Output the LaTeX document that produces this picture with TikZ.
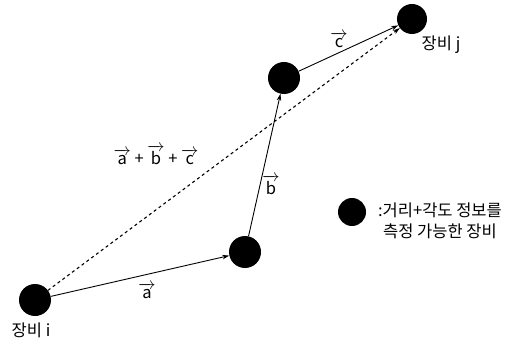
\documentclass[tikz,border=0pt]{standalone}
\usepackage{amsmath}
\usepackage{fontspec}
\setmainfont{Liberation Sans}
\newfontfamily\kor{Noto Sans CJK KR}
\usepackage{tikz}
\usetikzlibrary{arrows.meta, positioning, calc}
\newcommand{\vecl}[1]{\ensuremath{\overrightarrow{\mbox{#1}}}}

\begin{document}
\begin{tikzpicture}[
  x=1pt, y=-1pt,
  dev/.style={circle, fill=black, minimum size=32pt, inner sep=0pt},
  vec/.style={-{Stealth[length=7pt, width=4.5pt]}, line width=0.9pt},
  lbl/.style={font=\fontsize{16.5}{21}\selectfont\kor, inner sep=1pt}
]
\useasboundingbox (0,0) rectangle (518,344);
\node[dev] (di) at (35,300) {};
\node[dev] (da) at (245,252) {};
\node[dev] (db) at (284,78) {};
\node[dev, minimum size=30pt] (dj) at (412,19) {};
\node[lbl] (ni) at (31,330) {장비 i};
\node[lbl] (nj) at (441,45) {장비 j};
\draw[vec] (di) -- (da);
\draw[vec] (da) -- (db);
\draw[vec] (db) -- (dj);
\draw[vec, dashed, line width=1.1pt] (di) -- (dj);
\node[lbl] (la) at (147,291) {\vecl{a}};
\node[lbl] (lb) at (271,185) {\vecl{b}};
\node[lbl] (lc) at (339,40) {\vecl{c}};
\node[lbl] (lsum) at (156,155) {\vecl{a} + \vecl{b} + \vecl{c}};
% legend
\node[dev, minimum size=28pt] (key) at (352,212) {};
\node[lbl, align=center] (keytxt) at (440,221)
  {:거리+각도 정보를\\측정 가능한 장비};
\end{tikzpicture}
\end{document}
